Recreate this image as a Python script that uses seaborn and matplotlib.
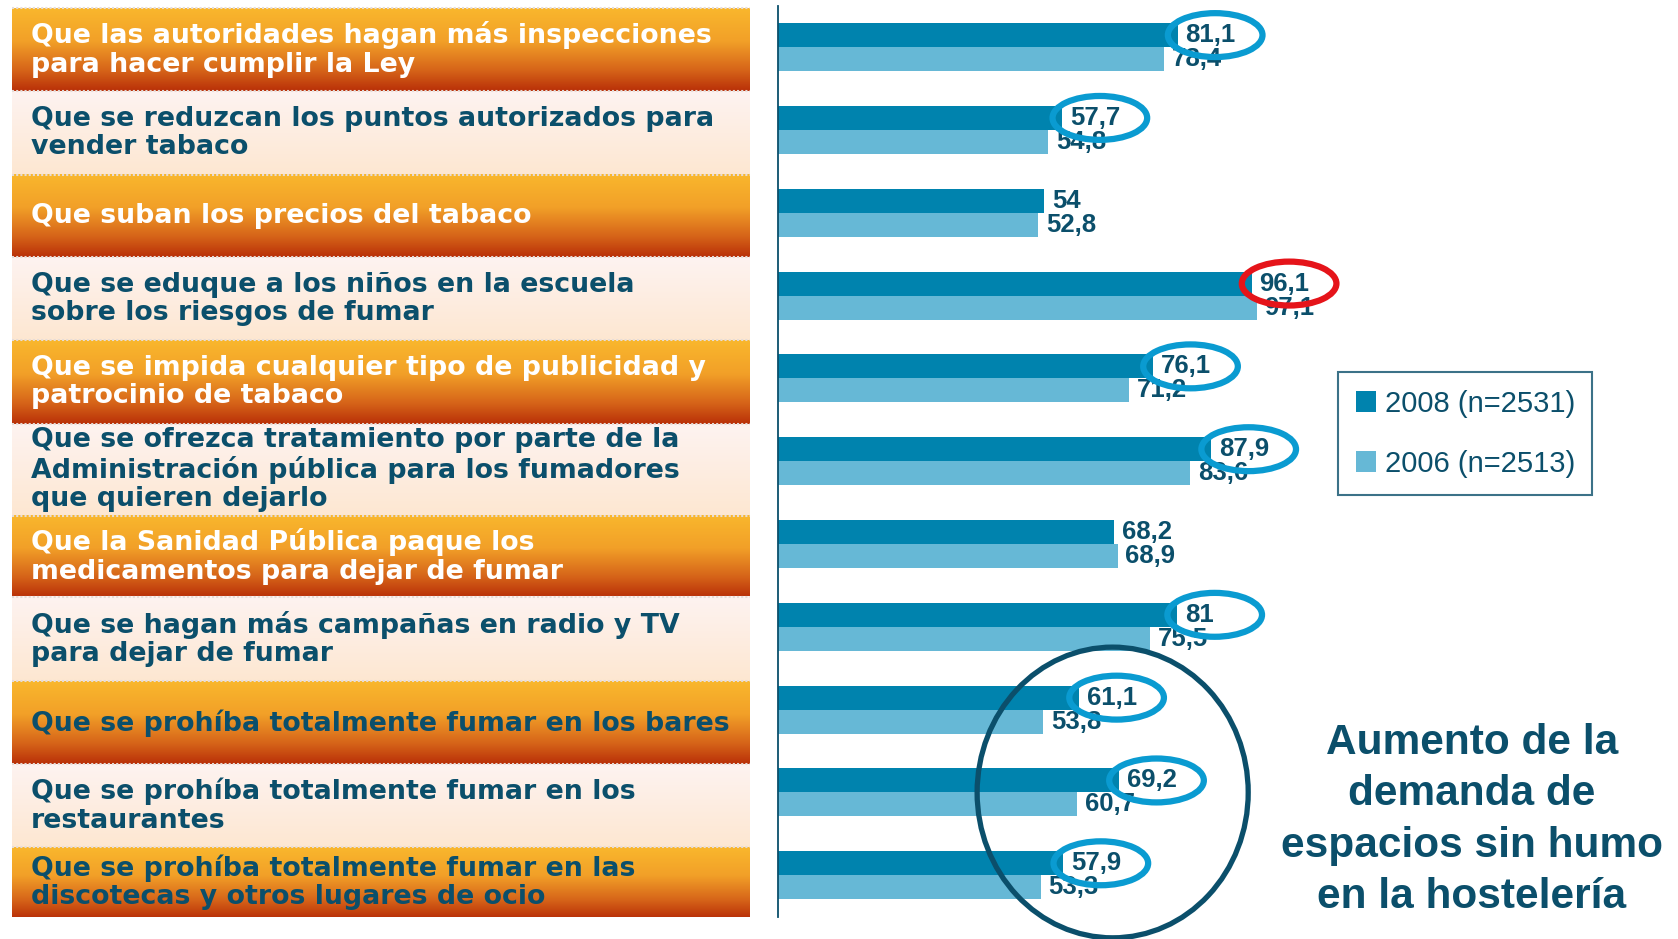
import numpy as np
import pandas as pd
import seaborn as sns
import matplotlib.pyplot as plt
from matplotlib.patches import Ellipse
from matplotlib.colors import LinearSegmentedColormap

categories = [
    "Que las autoridades hagan más inspecciones\npara hacer cumplir la Ley",
    "Que se reduzcan los puntos autorizados para\nvender tabaco",
    "Que suban los precios del tabaco",
    "Que se eduque a los niños en la escuela\nsobre los riesgos de fumar",
    "Que se impida cualquier tipo de publicidad y\npatrocinio de tabaco",
    "Que se ofrezca tratamiento por parte de la\nAdministración pública para los fumadores\nque quieren dejarlo",
    "Que la Sanidad Pública paque los\nmedicamentos para dejar de fumar",
    "Que se hagan más campañas en radio y TV\npara dejar de fumar",
    "Que se prohíba totalmente fumar en los bares",
    "Que se prohíba totalmente fumar en los\nrestaurantes",
    "Que se prohíba totalmente fumar en las\ndiscotecas y otros lugares de ocio",
]
v2008 = [81.1, 57.7, 54, 96.1, 76.1, 87.9, 68.2, 81, 61.1, 69.2, 57.9]
v2006 = [78.4, 54.8, 52.8, 97.1, 71.2, 83.6, 68.9, 75.5, 53.8, 60.7, 53.3]
series = ["2008 (n=2531)", "2006 (n=2513)"]
# ring around the 2008 value: "blue", "red" or None
rings = ["blue", "blue", None, "red", "blue", "blue", None, "blue", "blue", "blue", "blue"]
note = "Aumento de la\ndemanda de\nespacios sin humo\nen la hostelería"

DARK = "#0083AE"
LIGHT = "#66B8D6"
TEAL = "#0B4F6B"
RING = {"blue": "#0A9BD1", "red": "#E5141A"}

sns.set_style("white")
plt.rcParams["font.family"] = ["Liberation Sans", "DejaVu Sans"]

df = pd.DataFrame({
    "cat": categories * 2,
    "serie": [series[0]] * len(categories) + [series[1]] * len(categories),
    "valor": v2008 + v2006,
})

W, H = 1678, 939
fig = plt.figure(figsize=(W / 100, H / 100), dpi=100)
top_px, bot_px = 5.7, 916.7
ax_y0 = 1 - bot_px / H
ax_h = (bot_px - top_px) / H
ax = fig.add_axes([778 / W, ax_y0, 900 / W, ax_h])
ax_lab = fig.add_axes([12 / W, ax_y0, 738 / W, ax_h])

# ---- label panel with gradient boxes
orange = LinearSegmentedColormap.from_list(
    "orange", [(0, "#F9B72D"), (0.4, "#F2A028"), (0.75, "#D66419"), (1, "#B93008")])
pale = LinearSegmentedColormap.from_list("pale", ["#FEF3F1", "#FDE7D1"])
edges = [-0.47, 0.53, 1.54, 2.54, 3.54, 4.55, 5.66, 6.64, 7.66, 8.66, 9.66, 10.51]
grad = np.linspace(0, 1, 256).reshape(-1, 1)
for i, txt in enumerate(categories):
    y0, y1 = edges[i], edges[i + 1]
    is_orange = i % 2 == 0
    ax_lab.imshow(grad, cmap=orange if is_orange else pale, aspect="auto",
                  extent=(0, 1, y1, y0), origin="upper")
    color = "white" if (is_orange and i < 8) else TEAL
    ax_lab.text(0.026, (y0 + y1) / 2, txt, color=color, fontsize=19.3,
                fontweight="bold", family=["DejaVu Sans"], va="center",
                ha="left", linespacing=1.12)
ax_lab.hlines(edges[:-1], 0, 1, colors="#E6DCD8", linestyles=(0, (1, 1)), lw=1.5)
ax_lab.set_xlim(0, 1)
ax_lab.set_ylim(10.5, -0.5)
ax_lab.axis("off")

# ---- bars
sns.barplot(data=df, y="cat", x="valor", hue="serie", hue_order=series,
            palette=[DARK, LIGHT], saturation=1, linewidth=0, width=0.58,
            orient="h", ax=ax)
ax.set_xlim(0, 182.6)
ax.set_ylim(10.5, -0.5)
for cont, vals in zip(ax.containers, [v2008, v2006]):
    ax.bar_label(cont, labels=[f"{v:g}".replace(".", ",") for v in vals],
                 padding=5.5, fontsize=18.5, fontweight="bold", color=TEAL)

for i, (v, r) in enumerate(zip(v2008, rings)):
    if r:
        ax.add_patch(Ellipse((v + 7.6, i - 0.145), 19.2, 0.53, fill=False,
                             ec=RING[r], lw=4.5, zorder=5, clip_on=False))
# big circle around the smoking-ban rows
ax.add_patch(Ellipse((67.9, 9.0), 55, 3.51, fill=False, ec=TEAL, lw=3.8,
                     zorder=5, clip_on=False))

ax.set_xlabel("")
ax.set_ylabel("")
ax.set_xticks([])
ax.set_yticks(np.arange(-0.5, len(categories), 1.0))
ax.set_yticklabels([])
ax.tick_params(axis="y", length=4, width=1.2, color=TEAL, direction="out")
for s in ["top", "right", "bottom"]:
    ax.spines[s].set_visible(False)
ax.spines["left"].set_color(TEAL)
ax.spines["left"].set_linewidth(1.3)

handles, labels = ax.get_legend_handles_labels()
leg = ax.legend(handles, labels, loc="upper left",
                bbox_to_anchor=(1338 / W, 1 - 372 / H),
                bbox_transform=fig.transFigure, borderaxespad=0,
                fontsize=21, frameon=True, fancybox=False,
                handlelength=0.7, handleheight=0.7, handletextpad=0.3,
                labelspacing=1.1, borderpad=0.6)
leg.get_frame().set_edgecolor(TEAL)
leg.get_frame().set_linewidth(1.5)
for t in leg.get_texts():
    t.set_color(TEAL)

fig.text(1472 / W, 1 - 820 / H, note, ha="center", va="center",
         multialignment="center", fontsize=30.5, fontweight="bold",
         color=TEAL, linespacing=1.36)

fig.savefig("out.png", dpi=100, facecolor="white")
